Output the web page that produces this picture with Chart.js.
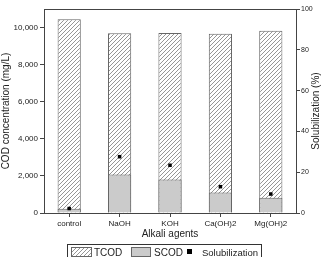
<!DOCTYPE html>
<html>
<head>
<meta charset="UTF-8">
<script src="https://cdn.jsdelivr.net/npm/chart.js"></script>
<style>
  * { margin: 0; padding: 0; }
  body { background: #fff; width: 322px; height: 257px; overflow: hidden; }
  #wrap { width: 322px; height: 257px; }
</style>
</head>
<body>
<div id="wrap"><canvas id="c" width="322" height="257"></canvas></div>
<script>
  const agents = ["control", "NaOH", "KOH", "Ca(OH)2", "Mg(OH)2"];
  const tcod = [10450, 9690, 9700, 9660, 9830];
  const scod = [230, 2080, 1810, 1110, 820];
  const solub = [2.2, 27.6, 23.4, 12.9, 9.3];
  const leftTicks = [0, 2000, 4000, 6000, 8000, 10000];
  const rightTicks = [0, 20, 40, 60, 80, 100];

  const font = "'Liberation Sans', Arial, sans-serif";

  // hatch fill for TCOD
  function hatch() {
    const p = document.createElement("canvas");
    p.width = 4; p.height = 4;
    const g = p.getContext("2d");
    g.fillStyle = "#fff";
    g.fillRect(0, 0, 4, 4);
    g.strokeStyle = "#8a8a8a";
    g.lineWidth = 0.9;
    g.beginPath();
    g.moveTo(0, 4); g.lineTo(4, 0);
    g.moveTo(-1, 1); g.lineTo(1, -1);
    g.moveTo(3, 5); g.lineTo(5, 3);
    g.stroke();
    return g.createPattern(p, "repeat");
  }
  const pat = hatch();

  // frame, right axis title and boxed legend
  const extras = {
    id: "extras",
    afterDraw(chart) {
      const ctx = chart.ctx, a = chart.chartArea;
      ctx.save();
      ctx.strokeStyle = "#444";
      ctx.lineWidth = 1;
      ctx.strokeRect(a.left + 0.5, a.top + 0.5, a.right - a.left, a.bottom - a.top);

      ctx.fillStyle = "#222";
      ctx.font = "10px " + font;
      ctx.textAlign = "center";
      ctx.textBaseline = "middle";
      ctx.save();
      ctx.translate(316, (a.top + a.bottom) / 2);
      ctx.rotate(-Math.PI / 2);
      ctx.fillText("Solubilization (%)", 0, 0);
      ctx.restore();

      // legend
      ctx.strokeStyle = "#333";
      ctx.strokeRect(67.5, 244.5, 194, 20);
      ctx.strokeStyle = "#666";
      ctx.fillStyle = pat;
      ctx.fillRect(71, 247, 21, 9);
      ctx.strokeRect(71.5, 247.5, 20, 9);
      ctx.fillStyle = "#cbcbcb";
      ctx.fillRect(131, 247, 20, 9);
      ctx.strokeRect(131.5, 247.5, 19, 9);
      ctx.fillStyle = "#000";
      ctx.fillRect(187, 249, 5, 5);
      ctx.fillStyle = "#222";
      ctx.textAlign = "left";
      ctx.textBaseline = "alphabetic";
      ctx.fillText(chart.data.datasets[0].label, 94, 255.5);
      ctx.fillText(chart.data.datasets[1].label, 154, 255.5);
      ctx.font = "9.5px " + font;
      ctx.fillText(chart.data.datasets[2].label, 202, 255.5);
      ctx.restore();
    }
  };

  new Chart(document.getElementById("c"), {
    type: "bar",
    data: {
      labels: agents,
      datasets: [
        { label: "TCOD", data: tcod, backgroundColor: pat, borderColor: "#666", borderWidth: 1,
          order: 2, barPercentage: 0.46, categoryPercentage: 1, yAxisID: "y" },
        { label: "SCOD", data: scod, backgroundColor: "#cbcbcb", borderColor: "#666", borderWidth: 1,
          order: 1, barPercentage: 0.46, categoryPercentage: 1, yAxisID: "y" },
        { type: "line", label: "Solubilization", data: solub, showLine: false, yAxisID: "y2",
          pointStyle: "rect", pointRadius: 2.5, backgroundColor: "#000", borderColor: "#000",
          borderWidth: 0, order: 0 }
      ]
    },
    options: {
      responsive: false,
      animation: false,
      events: [],
      layout: { padding: { top: 9, left: 0, right: 0, bottom: 17 } },
      plugins: {
        tooltip: { enabled: false },
        legend: { display: false }
      },
      scales: {
        x: {
          stacked: true,
          offset: true,
          grid: { drawOnChartArea: false, offset: false, tickLength: 4, color: "#444" },
          border: { display: true, color: "#444" },
          ticks: { color: "#222", font: { family: font, size: 8 }, padding: 2, maxRotation: 0 },
          title: { display: true, text: "Alkali agents", color: "#222",
                   font: { family: font, size: 10 }, padding: { top: 0, bottom: 0 } },
          afterFit(s) { s.height = 27; }
        },
        y: {
          position: "left",
          min: 0, max: 11000,
          stacked: false,
          afterBuildTicks(s) { s.ticks = leftTicks.map(v => ({ value: v })); },
          grid: { drawOnChartArea: false, tickLength: 4, color: "#444" },
          border: { display: true, color: "#444" },
          ticks: { color: "#222", font: { family: font, size: 8 }, padding: 2,
                   callback: v => v.toLocaleString("en-US") },
          title: { display: true, text: "COD concentration (mg/L)", color: "#222",
                   font: { family: font, size: 10 }, padding: 0 },
          afterFit(s) { s.width = 44; }
        },
        y2: {
          position: "right",
          min: 0, max: 100,
          afterBuildTicks(s) { s.ticks = rightTicks.map(v => ({ value: v })); },
          grid: { drawOnChartArea: false, tickLength: 4, color: "#444" },
          border: { display: true, color: "#444" },
          ticks: { color: "#222", font: { family: font, size: 7 }, padding: 1 },
          afterFit(s) { s.width = 26; }
        }
      }
    },
    plugins: [extras]
  });
</script>
</body>
</html>
